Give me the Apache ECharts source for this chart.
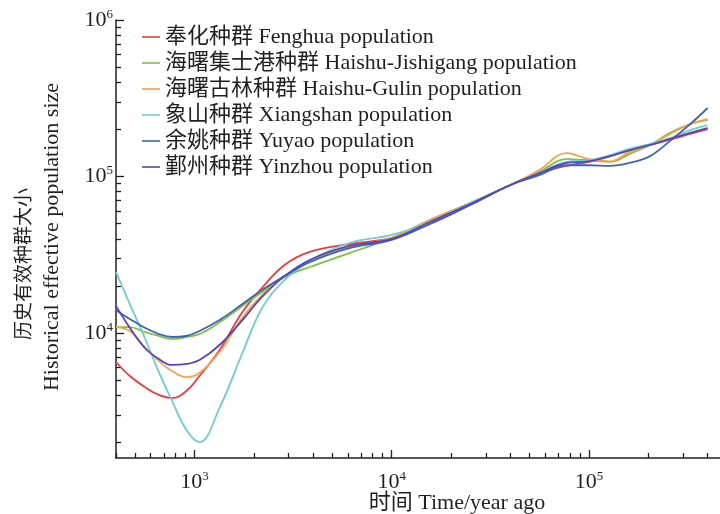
<!DOCTYPE html>
<html>
<head>
<meta charset="utf-8">
<script src="https://cdn.jsdelivr.net/npm/echarts@6/dist/echarts.min.js"></script>
<style>
  html, body { margin: 0; padding: 0; background: #fff; }
  #chart { width: 720px; height: 514px; }
</style>
</head>
<body>
<div id="chart"></div>
<script>
// years before present (x), effective population size (y)
const years = [400, 470, 560, 660, 770, 910, 1060, 1340, 1750, 2200, 2860, 3840, 6100,
  10000, 15600, 25000, 40000, 56000, 77000, 100000, 128000, 160000, 204000, 258000, 326000, 400000];

const fenghua = [6530, 5310, 4520, 4020, 3840, 4260, 5310, 7790, 13600, 19400, 27200, 33000, 37000,
  40500, 49700, 65700, 88300, 105000, 117000, 124000, 135000, 147000, 159000, 172000, 187000, 201000];
const haishuJishigang = [10900, 10900, 10150, 9570, 9150, 9430, 9850, 11700, 14900, 18300, 22800, 26400, 32400,
  40500, 52700, 67700, 88300, 107000, 129000, 127000, 124000, 139000, 159000, 190000, 216000, 230000];
const haishuGulin = [10900, 10300, 8140, 6620, 5720, 5230, 5550, 7560, 12500, 17500, 23100, 28800, 35400,
  40500, 52700, 67700, 88300, 110000, 141000, 129000, 125000, 143000, 159000, 187000, 216000, 233000];
const xiangshan = [24500, 15300, 9290, 5630, 3680, 2400, 2010, 3320, 7450, 14400, 21800, 28800, 37600,
  42300, 51200, 67700, 88300, 105000, 124000, 127000, 137000, 150000, 161000, 176000, 198000, 213000];
const yuyao = [14000, 12300, 10800, 9850, 9430, 9570, 10300, 12100, 15300, 18800, 23100, 28400, 34900,
  39300, 49700, 65700, 88300, 102000, 118000, 118000, 117000, 122000, 135000, 169000, 216000, 274000];
const yinzhou = [14900, 10800, 8020, 6820, 6250, 6340, 6720, 8380, 12100, 17000, 23100, 29300, 36000,
  39900, 51200, 66700, 88300, 105000, 122000, 125000, 135000, 147000, 159000, 174000, 190000, 204000];

const seriesNames = [
  "奉化种群 Fenghua population",
  "海曙集士港种群 Haishu-Jishigang population",
  "海曙古林种群 Haishu-Gulin population",
  "象山种群 Xiangshan population",
  "余姚种群 Yuyao population",
  "鄞州种群 Yinzhou population",
];
const seriesValues = [fenghua, haishuJishigang, haishuGulin, xiangshan, yuyao, yinzhou];
const seriesColors = ["#ee3b3f", "#7cc142", "#f7a24a", "#6fcfce", "#3e63b6", "#5445c0"];

const xMajorTicks = [1e3, 1e4, 1e5];
const yMajorTicks = [1e4, 1e5, 1e6];
const xRange = [400, 462000];
const yRange = [1590, 1e6];

function minorTicks(lo, hi) {
  const out = [];
  for (let d = 1e2; d < 1e7; d *= 10) {
    for (let k = 2; k <= 9; k++) {
      const v = k * d;
      if (v >= lo && v <= hi) out.push(v);
    }
  }
  return out;
}

const FONT = "'Liberation Serif', 'Noto Sans CJK SC', serif";
const INK = "#231f20";
const lg = Math.log10;

const chart = echarts.init(document.getElementById("chart"));

const labelRich = {
  b: { fontSize: 22, fontFamily: FONT, color: INK, lineHeight: 24 },
  s: { fontSize: 13, fontFamily: FONT, color: INK, lineHeight: 13, verticalAlign: "top" },
};
const powLabel = (v) => "{b|10}{s|" + Math.round(v) + "}";

const option = {
  animation: false,
  backgroundColor: "#fff",
  grid: { left: 116, right: 0, top: 20, bottom: 56 },
  xAxis: [
    {
      type: "value",
      min: lg(xRange[0]),
      max: lg(xRange[1]),
      axisLine: { lineStyle: { color: INK, width: 1.5 } },
      axisTick: { inside: true, length: 8, customValues: xMajorTicks.map(lg), lineStyle: { color: INK, width: 1.3 } },
      axisLabel: { customValues: xMajorTicks.map(lg), formatter: powLabel, margin: 12, rich: labelRich },
      splitLine: { show: false },
    },
    {
      type: "value",
      position: "bottom",
      min: lg(xRange[0]),
      max: lg(xRange[1]),
      axisLine: { show: false },
      axisTick: { inside: true, length: 5, customValues: minorTicks(xRange[0], xRange[1]).map(lg), lineStyle: { color: INK, width: 1.3 } },
      axisLabel: { show: false },
      splitLine: { show: false },
    },
  ],
  yAxis: [
    {
      type: "value",
      min: lg(yRange[0]),
      max: lg(yRange[1]),
      axisLine: { show: true, lineStyle: { color: INK, width: 1.5 } },
      axisTick: { show: true, inside: true, length: 8, customValues: yMajorTicks.map(lg), lineStyle: { color: INK, width: 1.3 } },
      axisLabel: { customValues: yMajorTicks.map(lg), formatter: powLabel, margin: 3, rich: labelRich },
      splitLine: { show: false },
    },
    {
      type: "value",
      position: "left",
      min: lg(yRange[0]),
      max: lg(yRange[1]),
      axisLine: { show: false },
      axisTick: { show: true, inside: true, length: 5, customValues: minorTicks(yRange[0], yRange[1]).map(lg), lineStyle: { color: INK, width: 1.3 } },
      axisLabel: { show: false },
      splitLine: { show: false },
    },
  ],
  legend: {
    orient: "vertical",
    left: 137,
    top: 21,
    icon: "rect",
    itemWidth: 18,
    itemHeight: 1.6,
    itemGap: 4,
    textStyle: { fontSize: 22, lineHeight: 22, color: INK, fontFamily: FONT },
    data: seriesNames,
  },
  graphic: [
    {
      type: "text",
      x: 457, y: 503,
      style: { text: "时间 Time/year ago", font: "22px " + FONT, fill: INK, align: "center", verticalAlign: "middle" },
    },
    {
      type: "text",
      x: 25, y: 264, rotation: Math.PI / 2,
      style: { text: "历史有效种群大小", font: "19px " + FONT, fill: INK, align: "center", verticalAlign: "middle" },
    },
    {
      type: "text",
      x: 52, y: 237, rotation: Math.PI / 2,
      style: { text: "Historical effective population size", font: "22px " + FONT, fill: INK, align: "center", verticalAlign: "middle" },
    },
  ],
  series: seriesNames.map((name, i) => ({
    name: name,
    type: "line",
    smooth: 0.4,
    symbol: "none",
    clip: true,
    lineStyle: { width: 1.8, color: seriesColors[i] },
    itemStyle: { color: seriesColors[i] },
    data: years.map((yr, j) => [lg(yr), lg(seriesValues[i][j])]),
  })),
};

chart.setOption(option);
</script>
</body>
</html>
